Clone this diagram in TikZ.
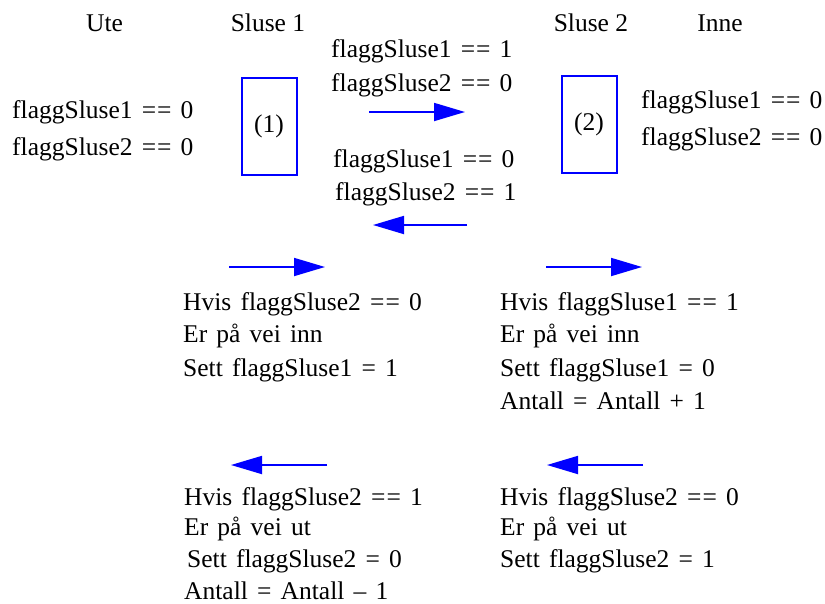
\documentclass[tikz,border=0pt]{standalone}
\usepackage{fontspec}
\setmainfont{Liberation Serif}
\usetikzlibrary{arrows.meta}
\newcommand{\eqeq}{=\kern1pt=}
\newcommand{\widesp}{\spaceskip=0.36em plus 0.1em\relax}
\begin{document}
\begin{tikzpicture}[x=1pt,y=-1pt,
  txt/.style={inner sep=0pt,anchor=base west,font=\fontsize{25.5}{30}\selectfont\widesp},
  ctxt/.style={inner sep=0pt,anchor=base,font=\fontsize{25.5}{30}\selectfont},
  sluse/.style={draw=blue,line width=2pt,minimum width=55pt,minimum height=97pt,inner sep=0pt,font=\fontsize{25.5}{30}\selectfont},
  flow/.style={draw=blue,line width=1.8pt,-{Triangle[length=31pt,width=18pt]}}]
\useasboundingbox (0,0) rectangle (825,603);
% headers
\node[ctxt] (ute) at (104.5,31.7) {Ute};
\node[ctxt] (s1) at (268,31.7) {Sluse 1};
\node[ctxt] (s2) at (591,31.7) {Sluse 2};
\node[ctxt] (inne) at (720,31.7) {Inne};
% sluices
\node[sluse] (b1) at (269,126) {(1)};
\node[sluse] (b2) at (589,124.5) {(2)};
% left state
\node[txt] (l1) at (12,118.3) {flaggSluse1 \eqeq{} 0};
\node[txt] (l2) at (12,155) {flaggSluse2 \eqeq{} 0};
% right state
\node[txt] (r1) at (641,108.3) {flaggSluse1 \eqeq{} 0};
\node[txt] (r2) at (641,145) {flaggSluse2 \eqeq{} 0};
% middle states
\node[txt] (m1) at (331,57.5) {flaggSluse1 \eqeq{} 1};
\node[txt] (m2) at (331,91.7) {flaggSluse2 \eqeq{} 0};
\node[txt] (m3) at (333,167.3) {flaggSluse1 \eqeq{} 0};
\node[txt] (m4) at (335,200) {flaggSluse2 \eqeq{} 1};
\coordinate (a1s) at (369,112); \coordinate (a1e) at (465,112);
\coordinate (a2s) at (467,225); \coordinate (a2e) at (373,225);
\draw[flow] (a1s) -- (a1e);
\draw[flow] (a2s) -- (a2e);
% row 2 arrows
\coordinate (a3s) at (229,267); \coordinate (a3e) at (325,267);
\coordinate (a4s) at (546,267); \coordinate (a4e) at (642,267);
\draw[flow] (a3s) -- (a3e);
\draw[flow] (a4s) -- (a4e);
% block 1
\node[txt] (p1) at (183,310) {Hvis flaggSluse2 \eqeq{} 0};
\node[txt] (p2) at (183,342) {Er på vei inn};
\node[txt] (p3) at (183,376.5) {Sett flaggSluse1 = 1};
% block 2
\node[txt] (q1) at (500,310) {Hvis flaggSluse1 \eqeq{} 1};
\node[txt] (q2) at (500,342) {Er på vei inn};
\node[txt] (q3) at (500,376.5) {Sett flaggSluse1 = 0};
\node[txt] (q4) at (500,409) {Antall = Antall + 1};
% row 3 arrows
\coordinate (a5s) at (327,465); \coordinate (a5e) at (231,465);
\coordinate (a6s) at (643,465); \coordinate (a6e) at (547,465);
\draw[flow] (a5s) -- (a5e);
\draw[flow] (a6s) -- (a6e);
% block 3
\node[txt] (u1) at (184,505) {Hvis flaggSluse2 \eqeq{} 1};
\node[txt] (u2) at (184,535.5) {Er på vei ut};
\node[txt] (u3) at (187,567) {Sett flaggSluse2 = 0};
\node[txt] (u4) at (184,599) {Antall = Antall -- 1};
% block 4
\node[txt] (v1) at (500,505) {Hvis flaggSluse2 \eqeq{} 0};
\node[txt] (v2) at (500,535.5) {Er på vei ut};
\node[txt] (v3) at (500,567) {Sett flaggSluse2 = 1};
\end{tikzpicture}
\end{document}
